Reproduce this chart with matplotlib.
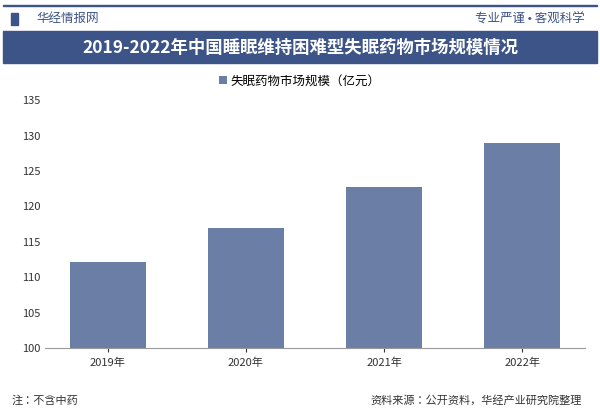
import matplotlib.pyplot as plt
from matplotlib.patches import Rectangle

plt.rcParams["font.family"] = ["Noto Sans CJK SC", "Noto Sans CJK JP", "Noto Sans CJK TC",
                               "Noto Sans CJK KR", "DejaVu Sans"]

years = ["2019年", "2020年", "2021年", "2022年"]
market_size = [112.2, 117.0, 122.8, 128.9]
y_ticks = [100, 105, 110, 115, 120, 125, 130, 135]

fig = plt.figure(figsize=(6, 4.17), dpi=100)

# header
fig.add_artist(Rectangle((0.005, 0.985), 0.99, 0.004, color="#3c5488", transform=fig.transFigure))
fig.add_artist(Rectangle((0.018, 0.94), 0.012, 0.028, color="#3c5488", transform=fig.transFigure))
fig.text(0.06, 0.955, "华经情报网", fontsize=9, color="#3c5488", va="center")
fig.text(0.975, 0.955, "专业严谨 • 客观科学", fontsize=9, color="#3c5488", va="center", ha="right")
fig.add_artist(Rectangle((0.005, 0.848), 0.99, 0.077, color="#3c5488", transform=fig.transFigure))
fig.text(0.5, 0.886, "2019-2022年中国睡眠维持困难型失眠药物市场规模情况", fontsize=12.5,
         color="white", weight="bold", ha="center", va="center")

ax = fig.add_axes([0.075, 0.165, 0.9, 0.595])
bars = ax.bar(years, market_size, width=0.55, color="#6b7fa6", label="失眠药物市场规模（亿元）")
ax.set_ylim(100, 135)
ax.set_yticks(y_ticks)
ax.tick_params(axis="both", labelsize=8, length=0, colors="#333333")
ax.tick_params(axis="x", length=3)
for s in ["top", "right", "left"]:
    ax.spines[s].set_visible(False)
ax.spines["bottom"].set_color("#999999")
fig.legend(loc="center", bbox_to_anchor=(0.5, 0.805), frameon=False, fontsize=9,
           handlelength=0.6, handleheight=0.6, handletextpad=0.3)

# footer
fig.text(0.02, 0.04, "注：不含中药", fontsize=8, color="#333333", va="center")
fig.text(0.97, 0.04, "资料来源：公开资料，华经产业研究院整理", fontsize=8, color="#333333",
         va="center", ha="right")

fig.savefig("out.png", dpi=100)
